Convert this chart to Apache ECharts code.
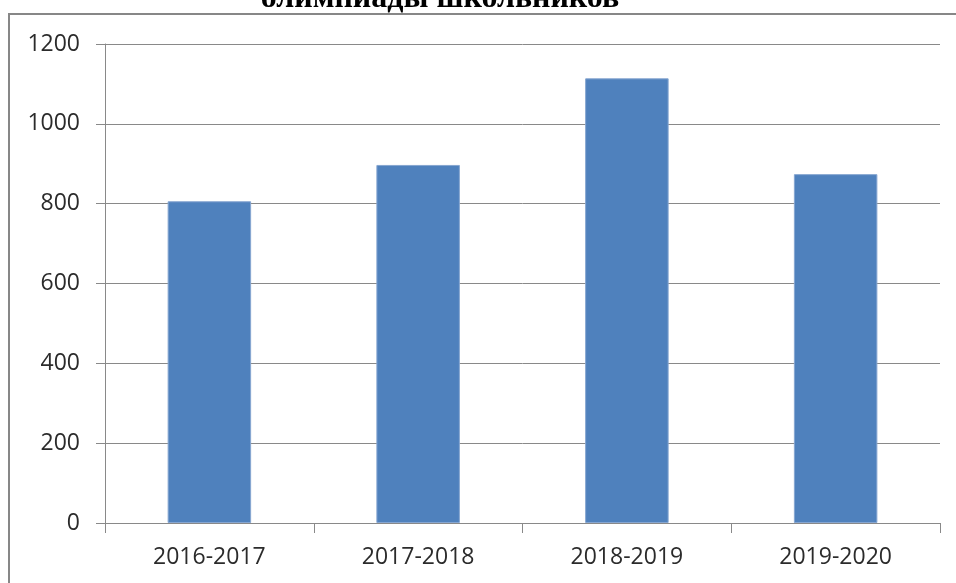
<!DOCTYPE html>
<html>
<head>
<meta charset="utf-8">
<script src="https://cdn.jsdelivr.net/npm/echarts@6/dist/echarts.min.js"></script>
<style>
  html, body { margin: 0; padding: 0; background: #fff; }
  #chart { width: 956px; height: 583px; }
</style>
</head>
<body>
<div id="chart"></div>
<script>
  // учебные годы и число участников
  var years = ['2016-2017', '2017-2018', '2018-2019', '2019-2020']
  var participants = [806, 897, 1114, 874]
  var yTicks = [0, 200, 400, 600, 800, 1000, 1200]

  var chart = echarts.init(document.getElementById('chart'))
  chart.setOption({
    animation: false,
    graphic: [
      {
        type: 'rect',
        shape: { x: 9, y: 14, width: 1000, height: 700 },
        style: { fill: 'none', stroke: '#878787', lineWidth: 2 },
        z: 0
      },
      {
        type: 'text',
        x: 440,
        y: 15,
        style: {
          text: 'олимпиады школьников',
          font: 'bold 32px "Liberation Serif"',
          fill: '#000',
          align: 'center',
          verticalAlign: 'bottom'
        }
      }
    ],
    grid: {
      left: 105,
      right: 16,
      top: 44,
      bottom: 60
    },
    xAxis: {
      type: 'category',
      data: years,
      boundaryGap: true,
      axisLine: { lineStyle: { color: '#898989', width: 1 } },
      axisTick: { show: true, length: 10, lineStyle: { color: '#898989' } },
      axisLabel: {
        margin: 23,
        color: '#2b2b2b',
        fontFamily: 'Open Sans',
        fontSize: 23
      }
    },
    yAxis: {
      type: 'value',
      min: yTicks[0],
      max: yTicks[yTicks.length - 1],
      interval: 200,
      axisLine: { show: true, lineStyle: { color: '#898989', width: 1 } },
      axisTick: { show: true, length: 9, lineStyle: { color: '#898989' } },
      splitLine: { show: true, lineStyle: { color: '#898989', width: 1 } },
      axisLabel: {
        margin: 25,
        color: '#2b2b2b',
        fontFamily: 'Open Sans',
        fontSize: 23,
        formatter: function (v) { return String(v) }
      }
    },
    series: [
      {
        type: 'bar',
        data: participants,
        barWidth: '40%',
        itemStyle: {
          color: '#4F81BD',
          borderColor: '#86A6D1',
          borderWidth: 1
        }
      }
    ]
  })
</script>
</body>
</html>
